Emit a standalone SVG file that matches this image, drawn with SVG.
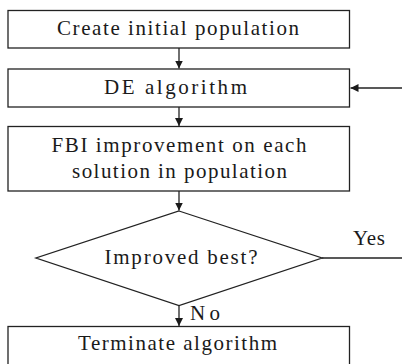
<svg xmlns="http://www.w3.org/2000/svg" width="402" height="364" viewBox="0 0 402 364">
  <style>
    .box { fill: #fff; stroke: #222; stroke-width: 1.3; }
    .edge { fill: none; stroke: #222; stroke-width: 1.3; }
    svg text, g text, text.lbl { font-family: "Liberation Serif", "Times New Roman", Tinos, serif !important; font-size: 21px; fill: #1a1a1a; text-anchor: middle; }
  </style>
  <defs>
    <marker id="arrow" viewBox="0 0 10 10" refX="10" refY="5" markerWidth="8" markerHeight="8" markerUnits="userSpaceOnUse" orient="auto">
      <path d="M0,0 L10,5 L0,10 Z" fill="#1a1a1a"/>
    </marker>
  </defs>

  <rect width="402" height="364" fill="#fff"/>

  <g id="create">
    <rect class="box" x="8" y="10.5" width="341.5" height="37.5"/>
    <text class="lbl" x="178" y="35" font-family="Liberation Serif" style="font-family: 'Liberation Serif', serif !important" textLength="242" lengthAdjust="spacing">Create initial population</text>
  </g>

  <g id="de">
    <rect class="box" x="8" y="69" width="341.5" height="38"/>
    <text class="lbl" x="175.5" y="93.5" font-family="Liberation Serif" style="font-family: 'Liberation Serif', serif !important" textLength="143" lengthAdjust="spacing">DE algorithm</text>
  </g>

  <g id="fbi">
    <rect class="box" x="8" y="126.5" width="341.5" height="64.5"/>
    <text class="lbl" x="179" y="152" font-family="Liberation Serif" style="font-family: 'Liberation Serif', serif !important" textLength="255" lengthAdjust="spacing">FBI improvement on each</text>
    <text class="lbl" x="179.5" y="178" font-family="Liberation Serif" style="font-family: 'Liberation Serif', serif !important" textLength="215" lengthAdjust="spacing">solution in population</text>
  </g>

  <g id="decision">
    <polygon class="box" points="179,211 322,258 179,305.5 36,258"/>
    <text class="lbl" x="181" y="263.5" font-family="Liberation Serif" style="font-family: 'Liberation Serif', serif !important" textLength="153" lengthAdjust="spacing">Improved best?</text>
  </g>

  <g id="terminate">
    <rect class="box" x="8" y="326.5" width="341.5" height="45"/>
    <text class="lbl" x="177.5" y="350" font-family="Liberation Serif" style="font-family: 'Liberation Serif', serif !important" textLength="199" lengthAdjust="spacing">Terminate algorithm</text>
  </g>

  <g id="connectors">
    <line class="edge" x1="179" y1="48" x2="179" y2="68.5" marker-end="url(#arrow)"/>
    <line class="edge" x1="179" y1="107" x2="179" y2="126" marker-end="url(#arrow)"/>
    <line class="edge" x1="179" y1="191" x2="179" y2="210.5" marker-end="url(#arrow)"/>
    <line class="edge" x1="179" y1="305.5" x2="179" y2="326" marker-end="url(#arrow)"/>
    <line class="edge" x1="322" y1="258" x2="402" y2="258"/>
    <line class="edge" x1="402" y1="88" x2="350.5" y2="88" marker-end="url(#arrow)"/>
    <text class="lbl" x="369" y="245" font-family="Liberation Serif" style="font-family: 'Liberation Serif', serif !important" textLength="32" lengthAdjust="spacing">Yes</text>
    <text class="lbl" x="205" y="320" font-family="Liberation Serif" style="font-family: 'Liberation Serif', serif !important" textLength="30" lengthAdjust="spacing">No</text>
  </g>
</svg>
